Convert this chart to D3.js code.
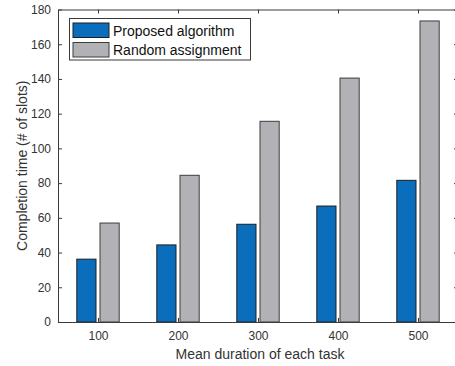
<!DOCTYPE html>
<html><head><meta charset="utf-8">
<script src="https://cdn.jsdelivr.net/npm/d3@7"></script>
<style>body{margin:0;background:#fff}svg{display:block;font-family:"Liberation Sans",Arial,sans-serif}</style>
</head><body><svg id="c" width="455" height="366"></svg>
<script>
const categories = [100, 200, 300, 400, 500];
const proposed = [36.2, 44.4, 56.3, 66.8, 81.6];
const randomAssign = [57.0, 84.5, 115.6, 140.5, 173.4];
const seriesNames = ["Proposed algorithm", "Random assignment"];
const yTicks = [0, 20, 40, 60, 80, 100, 120, 140, 160, 180];
const colors = ["#0a6ebd", "#b2b2b6"];

const svg = d3.select("#c");
const L = 58, R = 458, T = 9.5, B = 322;
const x = d3.scaleLinear().domain([50, 550]).range([L, R]);
const y = d3.scaleLinear().domain([0, 180]).range([B, T]);
const axisCol = "#3a3a3a";
const step = x(200) - x(100);
const bw = step * 0.24, off = step * 0.145;

const series = [proposed, randomAssign];
series.forEach((vals, si) => {
  svg.append("g").selectAll("rect").data(vals).join("rect")
    .attr("x", (d, i) => x(categories[i]) + (si === 0 ? -off : off) - bw / 2)
    .attr("y", d => y(d))
    .attr("width", bw)
    .attr("height", d => y(0) - y(d))
    .attr("fill", colors[si])
    .attr("stroke", si === 0 ? "#1e1e1e" : "#3c3c3c")
    .attr("stroke-width", 1);
});

// axes
const xAxis = d3.axisBottom(x).tickValues(categories).tickSizeInner(-4).tickSizeOuter(0).tickPadding(9);
const gx = svg.append("g").attr("transform", `translate(0,${B})`).call(xAxis);
const yAxis = d3.axisLeft(y).tickValues(yTicks).tickSizeInner(-4).tickSizeOuter(0).tickPadding(7);
const gy = svg.append("g").attr("transform", `translate(${L},0)`).call(yAxis);
const gxt = svg.append("g").attr("transform", `translate(0,${T})`).call(d3.axisTop(x).tickValues(categories).tickSizeInner(-4).tickSizeOuter(0).tickFormat(""));
const gyr = svg.append("g").attr("transform", `translate(${R},0)`).call(d3.axisRight(y).tickValues(yTicks).tickSizeInner(-4).tickSizeOuter(0).tickFormat(""));
[gx, gy, gxt, gyr].forEach(g => {
  g.selectAll(".domain").attr("stroke", axisCol).attr("stroke-width", 1);
  g.selectAll(".tick line").attr("stroke", axisCol);
  g.selectAll(".tick text").attr("fill", "#333").style("font-size", "12px").style("font-family", "Liberation Sans, Arial, sans-serif");
});

svg.append("text").attr("x", (L + R) / 2 + 2).attr("y", 359)
  .attr("text-anchor", "middle").attr("fill", "#333").style("font-size", "14px")
  .text("Mean duration of each task");
svg.append("text").attr("transform", `translate(27,${(T + B) / 2}) rotate(-90)`)
  .attr("text-anchor", "middle").attr("fill", "#333").style("font-size", "14px")
  .text("Completion time (# of slots)");

// legend
const lg = svg.append("g");
lg.append("rect").attr("x", 69.5).attr("y", 18.5).attr("width", 181).attr("height", 41.5)
  .attr("fill", "#fff").attr("stroke", axisCol).attr("stroke-width", 1);
seriesNames.forEach((n, i) => {
  lg.append("rect").attr("x", 73).attr("y", 23 + i * 19.5).attr("width", 36).attr("height", 14.5)
    .attr("fill", colors[i]).attr("stroke", i === 0 ? "#1e1e1e" : "#3c3c3c");
  lg.append("text").attr("x", 113).attr("y", 35.5 + i * 19.5).attr("fill", "#111")
    .style("font-size", "14px").text(n);
});
</script></body></html>
